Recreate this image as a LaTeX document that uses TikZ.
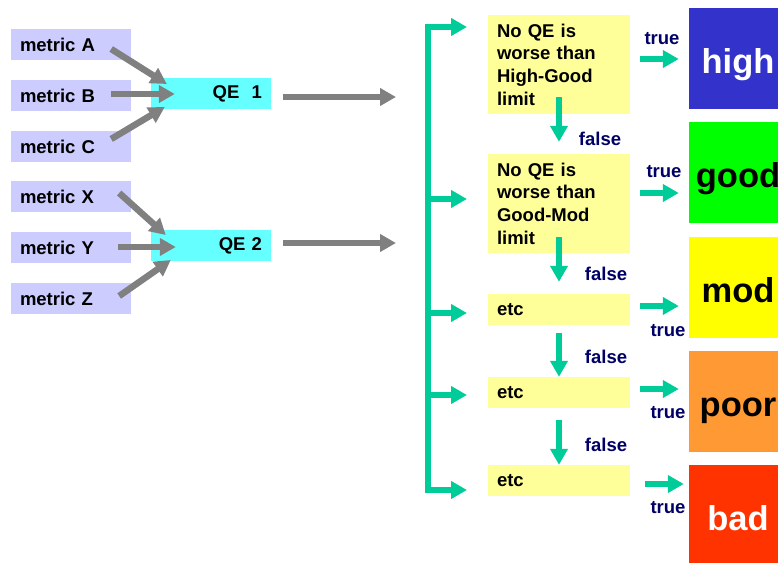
\documentclass[tikz,border=0pt]{standalone}
\usepackage{fontspec}
\setmainfont{Liberation Sans}
\usetikzlibrary{arrows.meta,calc}
\definecolor{metricfill}{HTML}{CCCCFF}
\definecolor{qefill}{HTML}{66FFFF}
\definecolor{testfill}{HTML}{FFFF99}
\definecolor{flowgreen}{HTML}{00CC99}
\definecolor{labnavy}{HTML}{000066}
\definecolor{arrowgray}{HTML}{808080}
\definecolor{highc}{HTML}{3333CC}
\definecolor{goodc}{HTML}{00FF00}
\definecolor{modc}{HTML}{FFFF00}
\definecolor{poorc}{HTML}{FF9933}
\definecolor{badc}{HTML}{FF3300}
\tikzset{
  base/.style={font=\fontsize{18.5}{22.7}\selectfont\bfseries},
  metricbox/.style={base, fill=metricfill, minimum width=120pt, minimum height=31pt,
    inner xsep=9pt, inner ysep=0pt, text width=102pt, align=left},
  qebox/.style={base, fill=qefill, minimum width=120pt, minimum height=31pt,
    inner xsep=9pt, inner ysep=0pt, text width=102pt, align=right},
  testbox/.style={base, fill=testfill, minimum width=142pt, inner xsep=9pt,
    inner ysep=0pt, text width=124pt, align=left},
  gradebox/.style={font=\fontsize{34.5}{40}\selectfont\bfseries, minimum width=98pt,
    minimum height=101pt, inner sep=0pt, text height=36pt, text depth=7pt},
  lab/.style={base, text=labnavy, inner sep=0pt},
  grayarrow/.style={draw=arrowgray, line width=6.5pt,
    -{Triangle[length=16pt,width=17pt]}},
  greenarrow/.style={draw=flowgreen, line width=5.5pt,
    -{Triangle[length=16pt,width=17pt]}},
}
\begin{document}
\begin{tikzpicture}[x=1pt,y=-1pt]
\useasboundingbox (0,0) rectangle (778,562);
% metric boxes
\node[metricbox] (mA) at (71,44.5) {metric A};
\node[metricbox] (mB) at (71,95.5) {metric B};
\node[metricbox] (mC) at (71,146.5) {metric C};
\node[metricbox] (mX) at (71,196.5) {metric X};
\node[metricbox] (mY) at (71,247.5) {metric Y};
\node[metricbox] (mZ) at (71,298.5) {metric Z};
% QE boxes
\node[qebox] (qe1) at (211,93.5) {QE\ \ 1};
\node[qebox] (qe2) at (211,245.5) {QE 2};
% gray arrows
\draw[grayarrow] ($(mA.east)+(-20,4.5)$) -- ($(qe1.west)+(16,-9.5)$);
\draw[grayarrow] ($(mB.east)+(-20,-1.5)$) -- ($(qe1.west)+(24,0.5)$);
\draw[grayarrow] ($(mC.east)+(-20,-7.5)$) -- ($(qe1.west)+(14,13.5)$);
\draw[grayarrow] ($(mX.east)+(-12,-3.5)$) -- ($(qe2.west)+(15,-10.5)$);
\draw[grayarrow] ($(mY.east)+(-13,-0.5)$) -- ($(qe2.west)+(25,1.5)$);
\draw[grayarrow] ($(mZ.east)+(-12,-2.5)$) -- ($(qe2.west)+(20,14.5)$);
\coordinate (o1) at (396,97);
\coordinate (o2) at (396,243);
\draw[grayarrow] ($(qe1.east)+(12,3.5)$) -- (o1);
\draw[grayarrow] ($(qe2.east)+(12,-2.5)$) -- (o2);
% test boxes
\node[testbox, minimum height=99pt] (t1) at (559,64.5) {No QE is\\worse than\\High-Good\\limit};
\node[testbox, minimum height=99pt] (t2) at (559,203.5) {No QE is\\worse than\\Good-Mod\\limit};
\node[testbox, minimum height=31pt] (t3) at (559,309.5) {etc};
\node[testbox, minimum height=31pt] (t4) at (559,392.5) {etc};
\node[testbox, minimum height=31pt] (t5) at (559,480.5) {etc};
% grade boxes
\node[gradebox, fill=highc, text=white] (gh) at (738,58.5) {high};
\node[gradebox, fill=goodc, text=black] (gg) at (738,172.5) {good};
\node[gradebox, fill=modc, text=black] (gm) at (738,287.5) {mod};
\node[gradebox, fill=poorc, text=black] (gp) at (738,401.5) {poor};
\node[gradebox, fill=badc, text=white] (gb) at (738,515.5) {bad};
% green bracket
\coordinate (b1) at (467,27);
\coordinate (b2) at (467,199);
\coordinate (b3) at (467,313);
\coordinate (b4) at (467,395);
\coordinate (b5) at (467,490);
\draw[greenarrow, {Triangle[length=16pt,width=17pt]}-{Triangle[length=16pt,width=17pt]}]
  (b1) -| (428,490) -- (b5);
\draw[greenarrow] (428,199) -- (b2);
\draw[greenarrow] (428,313) -- (b3);
\draw[greenarrow] (428,395) -- (b4);
% true arrows
\draw[greenarrow] ($(t1.east)+(10,-5.5)$) -- ($(gh.west)+(-10,0.5)$);
\draw[greenarrow] ($(t2.east)+(10,-10.5)$) -- ($(gg.west)+(-10,20.5)$);
\draw[greenarrow] ($(t3.east)+(10,-3.5)$) -- ($(gm.west)+(-10,18.5)$);
\draw[greenarrow] ($(t4.east)+(10,-3.5)$) -- ($(gp.west)+(-10,-12.5)$);
\draw[greenarrow] ($(t5.east)+(15,3.5)$) -- ($(gb.west)+(-5,-31.5)$);
% false arrows
\draw[greenarrow] ($(t1.south)+(0,-17)$) -- ($(t2.north)+(0,-12)$);
\draw[greenarrow] ($(t2.south)+(0,-16)$) -- ($(t3.north)+(0,-12)$);
\draw[greenarrow] ($(t3.south)+(0,7.5)$) -- (t4.north);
\draw[greenarrow] ($(t4.south)+(0,12)$) -- (t5.north);
% labels
\node[lab] (tr1) at (662,39) {true};
\node[lab] (tr2) at (664,172) {true};
\node[lab] (tr3) at (668,331) {true};
\node[lab] (tr4) at (668,413) {true};
\node[lab] (tr5) at (668,508) {true};
\node[lab] (f1) at (600,139) {false};
\node[lab] (f2) at (606,274) {false};
\node[lab] (f3) at (606,357) {false};
\node[lab] (f4) at (606,445) {false};
\end{tikzpicture}
\end{document}
